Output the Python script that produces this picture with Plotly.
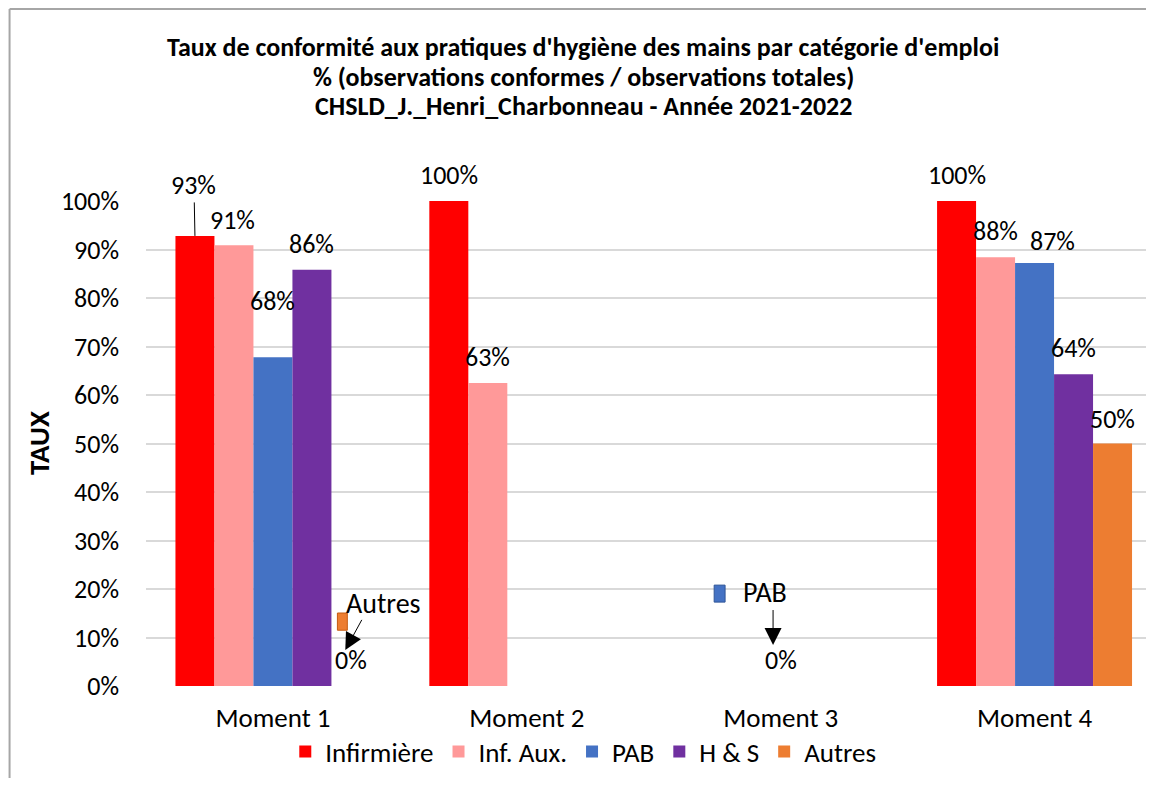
import plotly.graph_objects as go

categories = ["Moment 1", "Moment 2", "Moment 3", "Moment 4"]
series_names = ["Infirmière", "Inf. Aux.", "PAB", "H & S", "Autres"]
infirmiere = [0.928, 1.0, None, 1.0]
inf_aux = [0.909, 0.625, None, 0.884]
pab = [0.678, None, 0.0, 0.872]
h_s = [0.858, None, None, 0.643]
autres = [0.0, None, None, 0.50]
colors = ["#FF0000", "#FF9999", "#4472C4", "#7030A0", "#ED7D31"]
title_lines = [
    "Taux de conformité aux pratiques d'hygiène des mains par catégorie d'emploi",
    "% (observations conformes / observations totales)",
    "CHSLD_J._Henri_Charbonneau - Année 2021-2022",
]

series_values = [infirmiere, inf_aux, pab, h_s, autres]
y_ticks = [i / 10 for i in range(11)]

FONT = "Carlito, Lato, sans-serif"
BARGAP = 0.232
W, H = 1138, 770
ML, MR, MT, MB = 137.5, 0, 193, 92
PW = W - ML - MR
PH = H - MT - MB
CAT_PX = 254


def px_x(fx):
    return (fx - ML) / PW


def px_y(fy):
    return (H - MB - fy) / PH


def pct(v):
    return f"{int(v * 100 + 0.5)}%"


fig = go.Figure()
for name, vals, col in zip(series_names, series_values, colors):
    fig.add_trace(go.Bar(
        name=name, x=categories, y=vals, marker=dict(color=col, line=dict(width=0)),
        hoverinfo="x+y+name",
    ))

# data labels (offsets in pixels: (xshift, yshift))
bw = (1 - BARGAP) / len(series_names)
label_shift = {(0, 2): (0, 56), (3, 2): (18, 22), (0, 1): (-1, 25), (3, 4): (0, 25)}
annotations = []
for j, vals in enumerate(series_values):
    for i, v in enumerate(vals):
        if v is None:
            continue
        xpos = i + (j - (len(series_names) - 1) / 2) * bw
        lab_font = dict(size=26, color="#000000", family=FONT)
        if (i, j) == (0, 0):
            annotations.append(dict(x=xpos, y=v, xref="x", yref="y", text=pct(v),
                                    showarrow=True, arrowhead=0, arrowwidth=1,
                                    arrowcolor="#000000", ax=-1, ay=-51, font=lab_font))
        else:
            xs, ys = label_shift.get((i, j), (0, 26))
            annotations.append(dict(x=xpos, y=v, xref="x", yref="y", text=pct(v),
                                    showarrow=False, xshift=xs, yshift=ys,
                                    xanchor="center", yanchor="middle", font=lab_font))

# callouts
annotations += [
    dict(x=0.435, y=0.171, xref="x", yref="y", text="Autres", showarrow=False,
         xanchor="center", yanchor="middle",
         font=dict(size=28, color="#000000", family=FONT)),
    dict(x=1.939, y=0.192, xref="x", yref="y", text="PAB", showarrow=False,
         xanchor="center", yanchor="middle",
         font=dict(size=28, color="#000000", family=FONT)),
    dict(x=0.285, y=0.074, xref="x", yref="y", text=" ", showarrow=True,
         arrowhead=2, arrowsize=3.4, arrowwidth=1, arrowcolor="#000000",
         ax=18, ay=-33, font=dict(size=2)),
    dict(x=1.970, y=0.0845, xref="x", yref="y", text=" ", showarrow=True,
         arrowhead=2, arrowsize=3.4, arrowwidth=1, arrowcolor="#000000",
         ax=0, ay=-38, font=dict(size=2)),
    dict(x=px_x(30), y=0.5, xref="paper", yref="paper",
         text="<b>TAUX</b>", textangle=-90, showarrow=False,
         xanchor="center", yanchor="middle",
         font=dict(size=29, color="#000000", family=FONT)),
]
# title (three lines)
for k, (line, fy) in enumerate(zip(title_lines, [39, 68.5, 98])):
    annotations.append(dict(x=px_x(575), y=px_y(fy), xref="paper", yref="paper",
                            text=f"<b>{line}</b>", showarrow=False,
                            xanchor="center", yanchor="middle",
                            font=dict(size=26, color="#000000", family=FONT)))

shapes = [
    dict(type="rect", xref="x", yref="y", x0=0.254, x1=0.293, y0=0.115, y1=0.1505,
         fillcolor="#ED7D31", line=dict(color="#C55A11", width=1)),
    dict(type="rect", xref="x", yref="y", x0=1.738, x1=1.781, y0=0.173, y1=0.208,
         fillcolor="#4472C4", line=dict(color="#2F5597", width=1)),
    # chart frame (top and left edges)
    dict(type="line", xref="paper", yref="paper",
         x0=px_x(1), x1=px_x(W), y0=px_y(1), y1=px_y(1),
         line=dict(color="#A6A6A6", width=2)),
    dict(type="line", xref="paper", yref="paper",
         x0=px_x(1), x1=px_x(1), y0=px_y(1), y1=px_y(H),
         line=dict(color="#A6A6A6", width=2)),
]

fig.update_layout(
    width=W, height=H,
    margin=dict(l=ML, r=MR, t=MT, b=MB, pad=0),
    paper_bgcolor="white", plot_bgcolor="white",
    barmode="group", bargap=BARGAP, bargroupgap=0,
    font=dict(family=FONT, color="#000000", size=26),
    xaxis=dict(
        type="category", range=[-0.5, -0.5 + PW / CAT_PX],
        showgrid=False, showline=False, zeroline=False, ticks="",
        ticklabelstandoff=13, tickfont=dict(size=27, color="#000000", family=FONT),
    ),
    yaxis=dict(
        range=[0, 1], tickvals=y_ticks, tickformat=".0%",
        showgrid=True, gridcolor="#D9D9D9", gridwidth=1.5,
        showline=False, zeroline=False, ticks="",
        ticklabelstandoff=26, tickfont=dict(size=26, color="#000000", family=FONT),
    ),
    legend=dict(
        orientation="h", x=px_x(575), xanchor="center",
        y=px_y(744), yanchor="middle",
        font=dict(size=27, color="#000000", family=FONT),
        bgcolor="rgba(0,0,0,0)", itemclick=False, traceorder="normal",
    ),
    annotations=annotations,
    shapes=shapes,
    showlegend=True,
)

fig.write_html("out.html")
